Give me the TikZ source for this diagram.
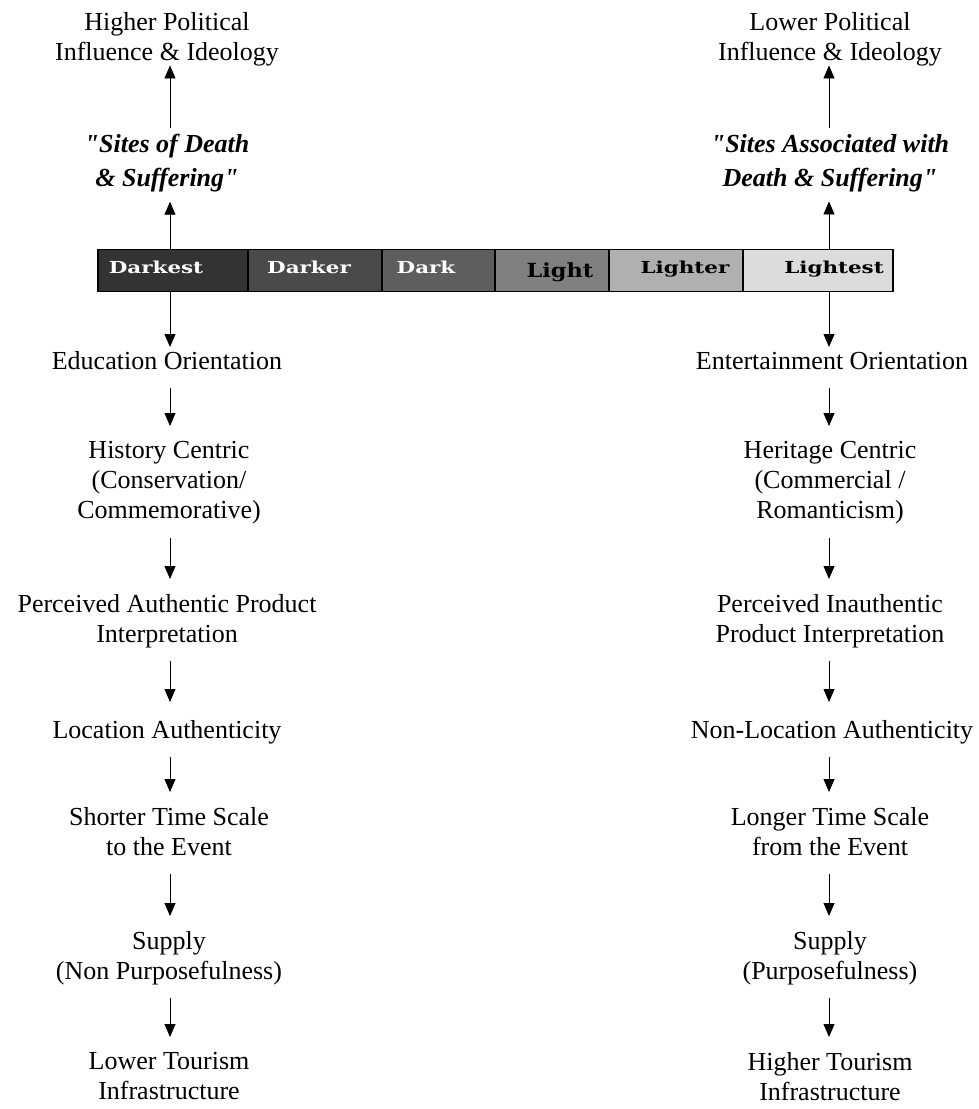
\documentclass[tikz,border=0pt]{standalone}
\usepackage{fontspec}
\setmainfont{Liberation Serif}[Ligatures=TeXOff]
\newfontfamily\barfont[FakeStretch=1.3]{DejaVu Serif}
\newfontfamily\barfontwide[FakeStretch=1.15]{DejaVu Serif}
\usetikzlibrary{arrows.meta}
\definecolor{cDarkest}{HTML}{333333}
\definecolor{cDarker}{HTML}{4A4A4A}
\definecolor{cDark}{HTML}{5E5E5E}
\definecolor{cLight}{HTML}{808080}
\definecolor{cLighter}{HTML}{B0B0B0}
\definecolor{cLightest}{HTML}{DCDCDC}
\begin{document}
\begin{tikzpicture}[x=1pt,y=-1pt,
  lbl/.style={align=center,inner sep=0pt,anchor=north,
    font=\fontsize{26}{30}\selectfont,
    execute at begin node=\strut,execute at end node=\strut},
  site/.style={lbl,font=\fontsize{26}{34}\selectfont\bfseries\itshape},
  seg/.style={draw=black,line width=1.6pt,minimum height=42pt,inner sep=0pt,
    outer sep=0pt,anchor=west},
  barlbl/.style={anchor=base,inner sep=0pt,font=\barfont\bfseries\fontsize{16.5}{18}\selectfont},
  arr/.style={line width=0.8pt,-{Triangle[length=13pt,width=11pt]}}]
\useasboundingbox (0,0) rectangle (979,1109);

% the light-to-dark scale
\node[seg,fill=cDarkest,minimum width=150pt] (darkest) at (98,270.5) {};
\node[seg,fill=cDarker,minimum width=134pt] (darker) at (248,270.5) {};
\node[seg,fill=cDark,minimum width=113pt] (dark) at (382,270.5) {};
\node[seg,fill=cLight,minimum width=114pt] (light) at (495,270.5) {};
\node[seg,fill=cLighter,minimum width=134pt] (lighter) at (609,270.5) {};
\node[seg,fill=cLightest,minimum width=150pt] (lightest) at (743,270.5) {};
\node[barlbl,text=white] (tDarkest) at (156,273) {Darkest};
\node[barlbl,text=white] (tDarker) at (309,273) {Darker};
\node[barlbl,text=white] (tDark) at (426,273) {Dark};
\node[barlbl,font=\barfontwide\bfseries\fontsize{19.5}{22}\selectfont,text=black] (tLight) at (560,277) {Light};
\node[barlbl,text=black] (tLighter) at (685,273) {Lighter};
\node[barlbl,text=black] (tLightest) at (834,273) {Lightest};

% left column
\node[lbl] (hiPol) at (167,12) {Higher Political\\Influence \& Ideology};
\node[site] (siteL) at (167,134) {"Sites of Death\\\& Suffering"};
\node[lbl] (edu) at (167,348) {Education Orientation};
\node[lbl] (hist) at (169,441) {History Centric\\(Conservation/\\Commemorative)};
\node[lbl] (authL) at (167,594) {Perceived Authentic Product\\Interpretation};
\node[lbl] (locL) at (167,717) {Location Authenticity};
\node[lbl] (timeL) at (169,807) {Shorter Time Scale\\to the Event};
\node[lbl] (supL) at (169,931) {Supply\\(Non Purposefulness)};
\node[lbl] (infL) at (169,1052) {Lower Tourism\\Infrastructure};

% right column
\node[lbl] (loPol) at (830,12) {Lower Political\\Influence \& Ideology};
\node[site] (siteR) at (830,134) {"Sites Associated with\\Death \& Suffering"};
\node[lbl] (ent) at (832,348) {Entertainment Orientation};
\node[lbl] (her) at (830,441) {Heritage Centric\\(Commercial /\\Romanticism)};
\node[lbl] (authR) at (830,594) {Perceived Inauthentic\\Product Interpretation};
\node[lbl] (locR) at (832,717) {Non-Location Authenticity};
\node[lbl] (timeR) at (830,807) {Longer Time Scale\\from the Event};
\node[lbl] (supR) at (830,931) {Supply\\(Purposefulness)};
\node[lbl] (infR) at (830,1052) {Higher Tourism\\Infrastructure};

% connectors
\coordinate (L) at (170,0);
\coordinate (R) at (829,0);
\draw[arr,shorten <=6pt,shorten >=-4pt] (L |- siteL.north) -- (L |- hiPol.south);
\draw[arr,shorten <=6pt,shorten >=-4pt] (R |- siteR.north) -- (R |- loPol.south);
\draw[arr,shorten >=4.8pt] (L |- darkest.north) -- (L |- siteL.south);
\draw[arr,shorten >=4.8pt] (R |- lightest.north) -- (R |- siteR.south);
\draw[arr,shorten >=1pt] (L |- darkest.south) -- (L |- edu.north);
\draw[arr,shorten >=1pt] (R |- lightest.south) -- (R |- ent.north);
\foreach \a/\b in {edu/hist,hist/authL,authL/locL,locL/timeL,timeL/supL,supL/infL}
  \draw[arr,shorten <=10pt,shorten >=15pt] (L |- \a.south) -- (L |- \b.north);
\foreach \a/\b in {ent/her,her/authR,authR/locR,locR/timeR,timeR/supR,supR/infR}
  \draw[arr,shorten <=10pt,shorten >=15pt] (R |- \a.south) -- (R |- \b.north);
\end{tikzpicture}
\end{document}
